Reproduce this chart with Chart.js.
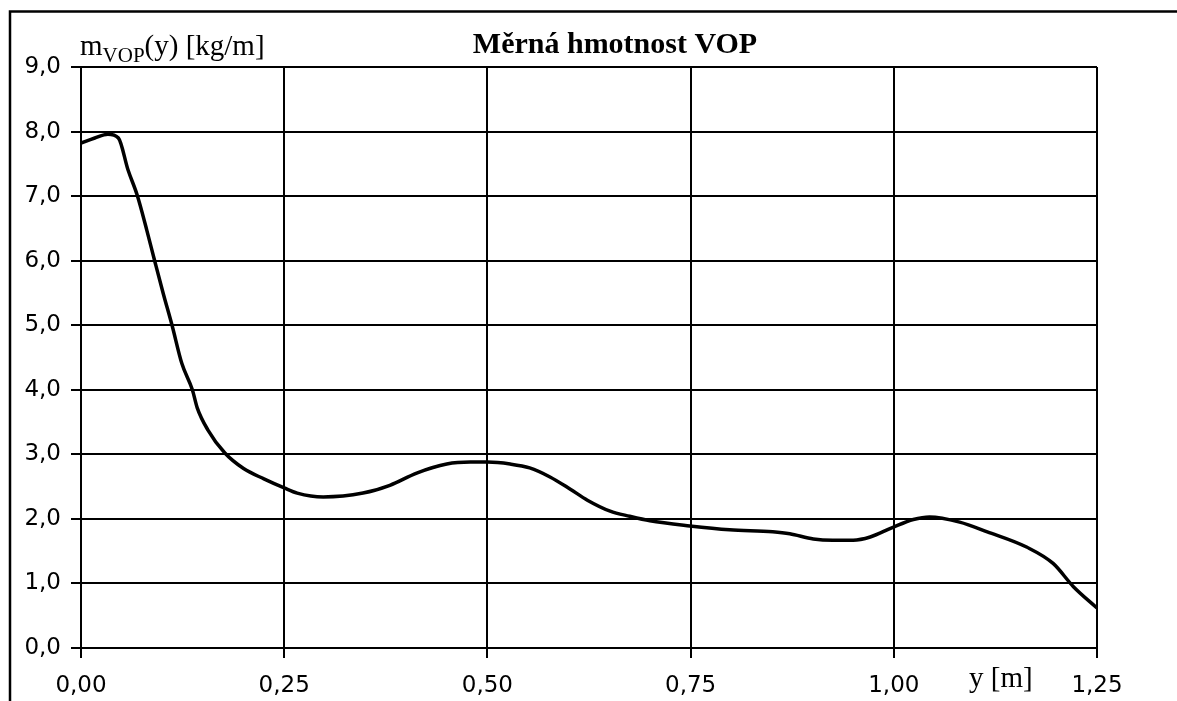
<!DOCTYPE html>
<html>
<head>
<meta charset="utf-8">
<script src="https://cdn.jsdelivr.net/npm/chart.js@4.4.1/dist/chart.umd.min.js"></script>
<style>
  html, body { margin: 0; padding: 0; background: #fff; }
</style>
</head>
<body>
<canvas id="chart" width="1177" height="701"></canvas>
<script>
// span position y [m]
const yPos = [0, 0.017, 0.033, 0.046, 0.058, 0.069, 0.081, 0.091, 0.101, 0.112, 0.124, 0.137, 0.143,
  0.156, 0.177, 0.200, 0.225, 0.250, 0.266, 0.298, 0.347, 0.380, 0.413, 0.450, 0.479, 0.500,
  0.528, 0.552, 0.577, 0.602, 0.623, 0.651, 0.675, 0.700, 0.749, 0.798, 0.851, 0.872, 0.901,
  0.925, 0.950, 0.971, 0.999, 1.024, 1.044, 1.081, 1.115, 1.164, 1.196, 1.221, 1.250];
// specific mass m_VOP(y) [kg/m]
const mass = [7.82, 7.90, 7.96, 7.90, 7.40, 7.02, 6.47, 5.98, 5.50, 5.00, 4.41, 4.00, 3.72,
  3.38, 3.02, 2.78, 2.62, 2.48, 2.40, 2.34, 2.40, 2.52, 2.71, 2.85, 2.88, 2.88,
  2.85, 2.79, 2.65, 2.46, 2.29, 2.12, 2.04, 1.97, 1.89, 1.83, 1.80, 1.77, 1.69,
  1.67, 1.67, 1.72, 1.87, 1.99, 2.03, 1.95, 1.80, 1.56, 1.31, 0.95, 0.62];

const xTickLabels = ['0,00', '0,25', '0,50', '0,75', '1,00', '1,25'];
const yTickLabels = ['0,0', '1,0', '2,0', '3,0', '4,0', '5,0', '6,0', '7,0', '8,0', '9,0'];
const chartTitle = 'Měrná hmotnost VOP';
const xAxisTitle = 'y [m]';

const sans = '"DejaVu Sans", "Liberation Sans", Arial, sans-serif';
const serif = '"Liberation Serif", "Times New Roman", serif';

// frame, title and axis captions
const decorations = {
  id: 'decorations',
  afterDraw(chart) {
    const ctx = chart.ctx;
    const area = chart.chartArea;
    ctx.save();
    ctx.strokeStyle = '#000';
    ctx.lineWidth = 2.5;
    ctx.beginPath();
    ctx.moveTo(10, chart.height);
    ctx.lineTo(10, 11.5);
    ctx.lineTo(chart.width, 11.5);
    ctx.stroke();

    ctx.fillStyle = '#000';
    ctx.textBaseline = 'alphabetic';
    ctx.font = 'bold 30px ' + serif;
    ctx.textAlign = 'center';
    ctx.fillText(chartTitle, 615, 53);

    // m_VOP(y) [kg/m]
    ctx.textAlign = 'left';
    let x = area.left - 1;
    ctx.font = '29px ' + serif;
    ctx.fillText('m', x, 55);
    x += ctx.measureText('m').width;
    ctx.font = '21px ' + serif;
    ctx.fillText('VOP', x, 62);
    x += ctx.measureText('VOP').width;
    ctx.font = '29px ' + serif;
    ctx.fillText('(y) [kg/m]', x, 55);

    ctx.fillText(xAxisTitle, 969, 687);
    ctx.restore();
  }
};

new Chart(document.getElementById('chart').getContext('2d'), {
  type: 'scatter',
  data: {
    datasets: [{
      data: yPos.map((v, i) => ({ x: v, y: mass[i] })),
      showLine: true,
      borderColor: '#000',
      borderWidth: 3.5,
      pointRadius: 0,
      cubicInterpolationMode: 'monotone',
      fill: false
    }]
  },
  options: {
    responsive: false,
    animation: false,
    devicePixelRatio: 1,
    layout: { padding: { left: 0, top: 67, right: 80, bottom: 0 } },
    plugins: { legend: { display: false }, tooltip: { enabled: false } },
    scales: {
      x: {
        type: 'linear',
        min: 0,
        max: 1.25,
        afterFit(scale) { scale.height = 53; },
        afterBuildTicks(scale) {
          scale.ticks = xTickLabels.map((t, i) => ({ value: i * 0.25 }));
        },
        grid: { color: '#000', lineWidth: 2, tickLength: 10, tickColor: '#000', tickWidth: 2 },
        border: { display: true, color: '#000', width: 2 },
        ticks: {
          color: '#000',
          font: { family: sans, size: 23 },
          padding: 14,
          maxRotation: 0,
          callback: (v, i) => xTickLabels[i]
        }
      },
      y: {
        min: 0,
        max: 9,
        afterFit(scale) { scale.width = 81; },
        afterBuildTicks(scale) {
          scale.ticks = yTickLabels.map((t, i) => ({ value: i }));
        },
        grid: { color: '#000', lineWidth: 2, tickLength: 10, tickColor: '#000', tickWidth: 2 },
        border: { display: true, color: '#000', width: 2 },
        ticks: {
          color: '#000',
          font: { family: sans, size: 23 },
          padding: 10,
          callback: (v, i) => yTickLabels[i]
        }
      }
    }
  },
  plugins: [decorations]
});
</script>
</body>
</html>
